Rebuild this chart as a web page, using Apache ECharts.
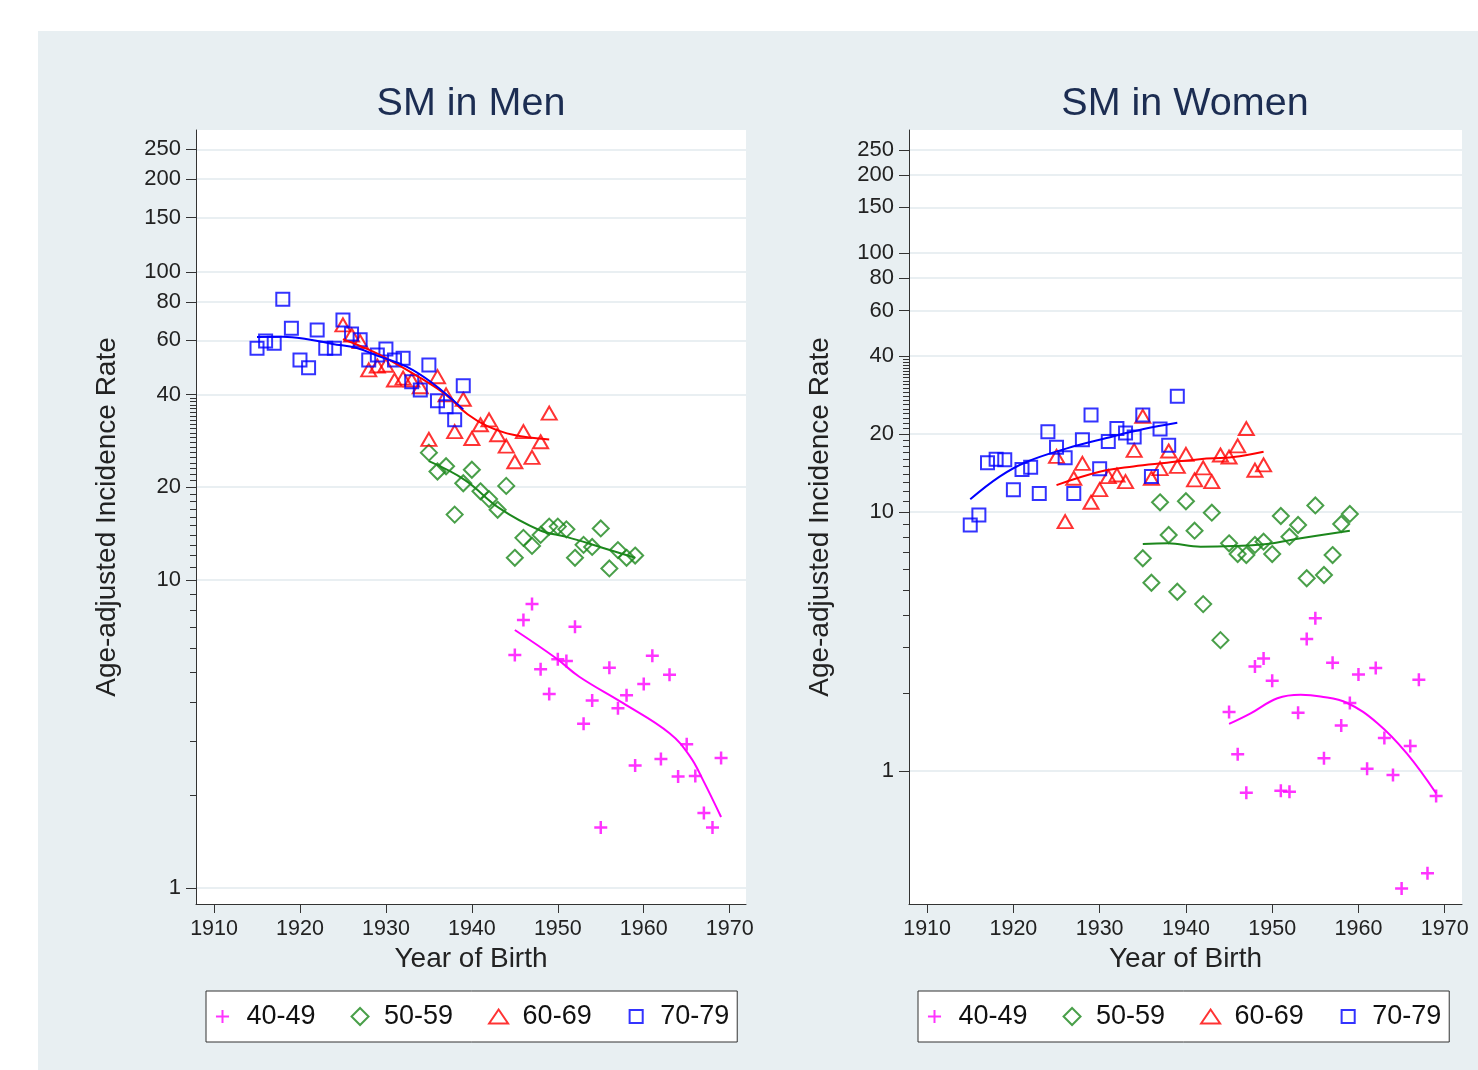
<!DOCTYPE html>
<html><head><meta charset="utf-8">
<script src="https://cdn.jsdelivr.net/npm/echarts@6/dist/echarts.min.js"></script>
<style>
html,body{margin:0;padding:0;background:#fff;}
#wrap{position:relative;width:1478px;height:1070px;background:#fff;overflow:hidden;}
#panel{position:absolute;left:38px;top:31px;width:1440px;height:1039px;background:#e8eff2;}
#chart{position:absolute;left:0;top:0;width:1478px;height:1070px;}
</style></head><body>
<div id="wrap"><div id="panel"></div><div id="chart"></div></div>
<script>
// ---------- data ----------
const ageGroups = ['40-49', '50-59', '60-69', '70-79'];
const xTicks = [1910, 1920, 1930, 1940, 1950, 1960, 1970];
const yTicks = [1, 10, 20, 40, 60, 80, 100, 150, 200, 250];
const yMinorTicks = [2, 3, 4, 5, 6, 7, 8, 9, 11, 12, 13, 14, 15, 16, 17, 18, 19, 21, 22, 23, 24, 25, 26, 27, 28, 29, 30, 31, 32, 33, 34, 35, 36, 37, 38, 39];

const years40 = [1945, 1946, 1947, 1948, 1949, 1950, 1951, 1952, 1953, 1954, 1955, 1956, 1957, 1958, 1959, 1960, 1961, 1962, 1963, 1964, 1965, 1966, 1967, 1968, 1969];
const years50 = [1935, 1936, 1937, 1938, 1939, 1940, 1941, 1942, 1943, 1944, 1945, 1946, 1947, 1948, 1949, 1950, 1951, 1952, 1953, 1954, 1955, 1956, 1957, 1958, 1959];
const years60 = [1925, 1926, 1927, 1928, 1929, 1930, 1931, 1932, 1933, 1934, 1935, 1936, 1937, 1938, 1939, 1940, 1941, 1942, 1943, 1944, 1945, 1946, 1947, 1948, 1949];
const years70 = [1915, 1916, 1917, 1918, 1919, 1920, 1921, 1922, 1923, 1924, 1925, 1926, 1927, 1928, 1929, 1930, 1931, 1932, 1933, 1934, 1935, 1936, 1937, 1938, 1939];

// Men
const men40 = [5.71, 7.41, 8.36, 5.13, 4.26, 5.53, 5.46, 7.05, 3.41, 4.06, 1.57, 5.19, 3.83, 4.22, 2.50, 4.59, 5.67, 2.62, 4.92, 2.30, 2.93, 2.31, 1.75, 1.57, 2.64];
const men50 = [25.9, 22.5, 23.4, 16.3, 20.6, 22.8, 19.4, 18.3, 16.9, 20.2, 11.8, 13.7, 12.9, 14.0, 14.9, 14.9, 14.6, 11.8, 13.0, 12.8, 14.7, 10.9, 12.5, 11.8, 12.0];
const men60 = [67.3, 62.4, 59.4, 48.1, 49.5, 49.8, 44.6, 45.2, 44.6, 42.4, 28.6, 45.7, 39.9, 30.3, 38.6, 28.8, 31.9, 33.1, 29.6, 27.2, 24.2, 30.3, 25.0, 28.1, 34.8];
const men70 = [56.5, 59.7, 58.7, 81.5, 65.6, 51.8, 48.9, 64.8, 56.5, 56.5, 69.8, 62.9, 60.2, 51.8, 53.8, 56.2, 51.8, 52.5, 44.0, 41.4, 49.9, 38.2, 36.5, 33.1, 42.7];
// Men smoothed fits [year, rate]
const menFit40 = [[1945, 6.88], [1949.8, 5.57], [1952.5, 4.85], [1957.6, 3.98], [1963, 3.18], [1965.4, 2.67], [1966.9, 2.24], [1969, 1.70]];
const menFit50 = [[1935, 24.3], [1939.2, 21.1], [1943.2, 17.1], [1947.9, 14.5], [1951, 13.8], [1954.9, 12.8], [1959, 11.8]];
const menFit60 = [[1925, 60.5], [1927, 57.5], [1929.3, 53.8], [1934, 45.3], [1937, 39.9], [1939.5, 34.5], [1941.8, 31.6], [1944.8, 29.6], [1949, 28.6]];
const menFit70 = [[1915, 61.5], [1918, 61.6], [1920.7, 60.6], [1923.8, 58.4], [1926.6, 56.6], [1929.3, 53.1], [1932.4, 49.3], [1935.4, 43.6], [1939, 35.8]];

// Women
const wom40 = [1.69, 1.16, 0.824, 2.53, 2.72, 2.23, 0.839, 0.832, 1.68, 3.23, 3.89, 1.12, 2.62, 1.50, 1.83, 2.36, 1.02, 2.50, 1.34, 0.965, 0.352, 1.25, 2.25, 0.403, 0.80];
const wom50 = [6.63, 5.33, 10.9, 8.15, 4.92, 11.0, 8.47, 4.41, 9.94, 3.20, 7.57, 6.88, 6.82, 7.46, 7.68, 6.88, 9.65, 8.03, 8.91, 5.55, 10.6, 5.71, 6.82, 8.99, 9.83];
const wom60 = [16.4, 9.18, 13.5, 15.4, 10.9, 12.2, 13.7, 13.9, 13.1, 17.3, 23.4, 13.5, 14.7, 17.2, 15.0, 16.7, 13.3, 14.8, 13.1, 16.6, 16.3, 18.0, 21.0, 14.5, 15.2];
const wom70 = [8.91, 9.73, 15.5, 16.0, 15.9, 12.2, 14.6, 14.9, 11.8, 20.4, 17.8, 16.2, 11.8, 19.0, 23.7, 14.7, 18.7, 21.0, 20.2, 19.5, 23.7, 13.7, 20.9, 18.1, 28.0];
const womFit40 = [[1945, 1.52], [1947.5, 1.67], [1950.6, 1.91], [1953.3, 1.97], [1955.6, 1.94], [1958.7, 1.83], [1962.2, 1.53], [1965.6, 1.17], [1969, 0.82]];
const womFit50 = [[1935, 7.52], [1937.9, 7.57], [1941.7, 7.35], [1945.5, 7.39], [1949.4, 7.52], [1953.3, 7.92], [1959, 8.47]];
const womFit60 = [[1925, 12.7], [1930, 14.3], [1933.9, 15.0], [1937.8, 15.5], [1941.6, 16.0], [1945.5, 16.3], [1949, 17.1]];
const womFit70 = [[1915, 11.2], [1918.4, 13.7], [1921.5, 15.6], [1926.2, 17.6], [1930.8, 19.3], [1935.1, 20.9], [1939, 22.1]];

// ---------- styles ----------
const FONT = '"Liberation Sans", Arial, sans-serif';
const groupStyle = {
  '40-49': { color: '#ff00ff', symbol: 'path://M0,5L10,5M5,0L5,10', size: 13, bw: 2.5,
             icon: 'path://M0,5L10,5M5,0L5,10M-1.5,-1.5M11.5,11.5' },
  '50-59': { color: '#1c871c', symbol: 'diamond', size: 16, bw: 2,
             icon: 'path://M5,0L10,5L5,10L0,5Z' },
  '60-69': { color: '#ff0000', symbol: 'triangle', size: [15, 13], bw: 2,
             icon: 'path://M5,0L10,7.4L0,7.4ZM0,-0.78M0,8.17' },
  '70-79': { color: '#0000ff', symbol: 'rect', size: 13, bw: 2,
             icon: 'path://M0,0L10,0L10,10L0,10ZM-1.5,-1.5M11.5,11.5' }
};

function scatter(name, years, vals, g) {
  const s = groupStyle[name];
  return {
    type: 'scatter', name: name, xAxisIndex: g, yAxisIndex: g * 2,
    symbol: s.symbol, symbolSize: s.size,
    itemStyle: { color: 'rgba(0,0,0,0)', borderColor: s.color, borderWidth: s.bw },
    data: years.map((y, i) => [y, vals[i]]), z: 3
  };
}
function fit(name, pts, g) {
  const s = groupStyle[name];
  return {
    type: 'line', name: 'fit ' + name, xAxisIndex: g, yAxisIndex: g * 2,
    showSymbol: false, smooth: 0.4, lineStyle: { color: s.color, width: 2 },
    data: pts, z: 4, silent: true
  };
}

function xAxis(g, min, max) {
  return {
    type: 'value', gridIndex: g, min: min, max: max,
    axisLine: { show: true, onZero: false, lineStyle: { color: '#333', width: 1 } },
    axisTick: { show: true, customValues: xTicks, length: 9, lineStyle: { color: '#333' } },
    axisLabel: { customValues: xTicks, fontSize: 21.5, color: '#222', margin: 14, fontFamily: FONT,
                 formatter: v => String(Math.round(v)) },
    splitLine: { show: false },
    name: 'Year of Birth', nameLocation: 'middle', nameGap: 39,
    nameTextStyle: { fontSize: 28, color: '#222', fontFamily: FONT }
  };
}
function yMajor(g, min, max) {
  return {
    type: 'log', logBase: 10, gridIndex: g, min: min, max: max, position: 'left',
    axisLine: { show: true, lineStyle: { color: '#333', width: 1 } },
    axisTick: { show: true, customValues: yTicks, length: 10, lineStyle: { color: '#333' } },
    axisLabel: { customValues: yTicks, fontSize: 22, color: '#222', margin: 15, fontFamily: FONT,
                 formatter: v => String(Math.round(v)) },
    splitLine: { show: true, lineStyle: { color: '#e2eaee', width: 1.5 } },
    name: 'Age-adjusted Incidence Rate', nameLocation: 'middle', nameGap: 75, nameRotate: 90,
    nameTextStyle: { fontSize: 28, color: '#222', fontFamily: FONT }
  };
}
function yMinor(g, min, max) {
  return {
    type: 'log', logBase: 10, gridIndex: g, min: min, max: max, position: 'left', offset: 0,
    axisLine: { show: false },
    axisTick: { show: true, customValues: yMinorTicks, length: 6, lineStyle: { color: '#333' } },
    axisLabel: { show: false },
    splitLine: { show: false }
  };
}
function legend(left) {
  return {
    data: ageGroups.map(n => ({ name: n, icon: groupStyle[n].icon })),
    left: left, top: 991, orient: 'horizontal', selectedMode: false,
    padding: [12, 8, 12, 7], itemGap: 35, itemWidth: 20, itemHeight: 17,
    itemStyle: { borderWidth: 2 },
    borderColor: '#333', borderWidth: 1, backgroundColor: '#fff', borderRadius: 0,
    textStyle: { fontSize: 27, color: '#111', fontFamily: FONT, padding: [0, 0, 0, 9] }
  };
}

const chart = echarts.init(document.getElementById('chart'), null, { renderer: 'canvas' });
chart.setOption({
  backgroundColor: 'transparent',
  animation: false,
  textStyle: { fontFamily: FONT },
  title: [
    { text: 'SM in Men', left: 466, top: 79, textAlign: 'center', textStyle: { fontSize: 39.5, fontWeight: 'normal', color: '#1c2d52', fontFamily: FONT } },
    { text: 'SM in Women', left: 1180, top: 79, textAlign: 'center', textStyle: { fontSize: 39.5, fontWeight: 'normal', color: '#1c2d52', fontFamily: FONT } }
  ],
  legend: [legend(206), legend(918)],
  grid: [
    { left: 196, top: 130, width: 550, height: 774, show: true, backgroundColor: '#fff', borderWidth: 0, containLabel: false },
    { left: 909, top: 130, width: 553, height: 774, show: true, backgroundColor: '#fff', borderWidth: 0, containLabel: false }
  ],
  xAxis: [xAxis(0, 1907.9, 1971.9), xAxis(1, 1907.9, 1972.0)],
  yAxis: [yMajor(0, 0.887, 289), yMinor(0, 0.887, 289), yMajor(1, 0.3065, 298.5), yMinor(1, 0.3065, 298.5)],
  series: [
    scatter('40-49', years40, men40, 0),
    scatter('50-59', years50, men50, 0),
    scatter('60-69', years60, men60, 0),
    scatter('70-79', years70, men70, 0),
    fit('40-49', menFit40, 0), fit('50-59', menFit50, 0), fit('60-69', menFit60, 0), fit('70-79', menFit70, 0),
    scatter('40-49', years40, wom40, 1),
    scatter('50-59', years50, wom50, 1),
    scatter('60-69', years60, wom60, 1),
    scatter('70-79', years70, wom70, 1),
    fit('40-49', womFit40, 1), fit('50-59', womFit50, 1), fit('60-69', womFit60, 1), fit('70-79', womFit70, 1)
  ]
});
</script>
</body></html>
